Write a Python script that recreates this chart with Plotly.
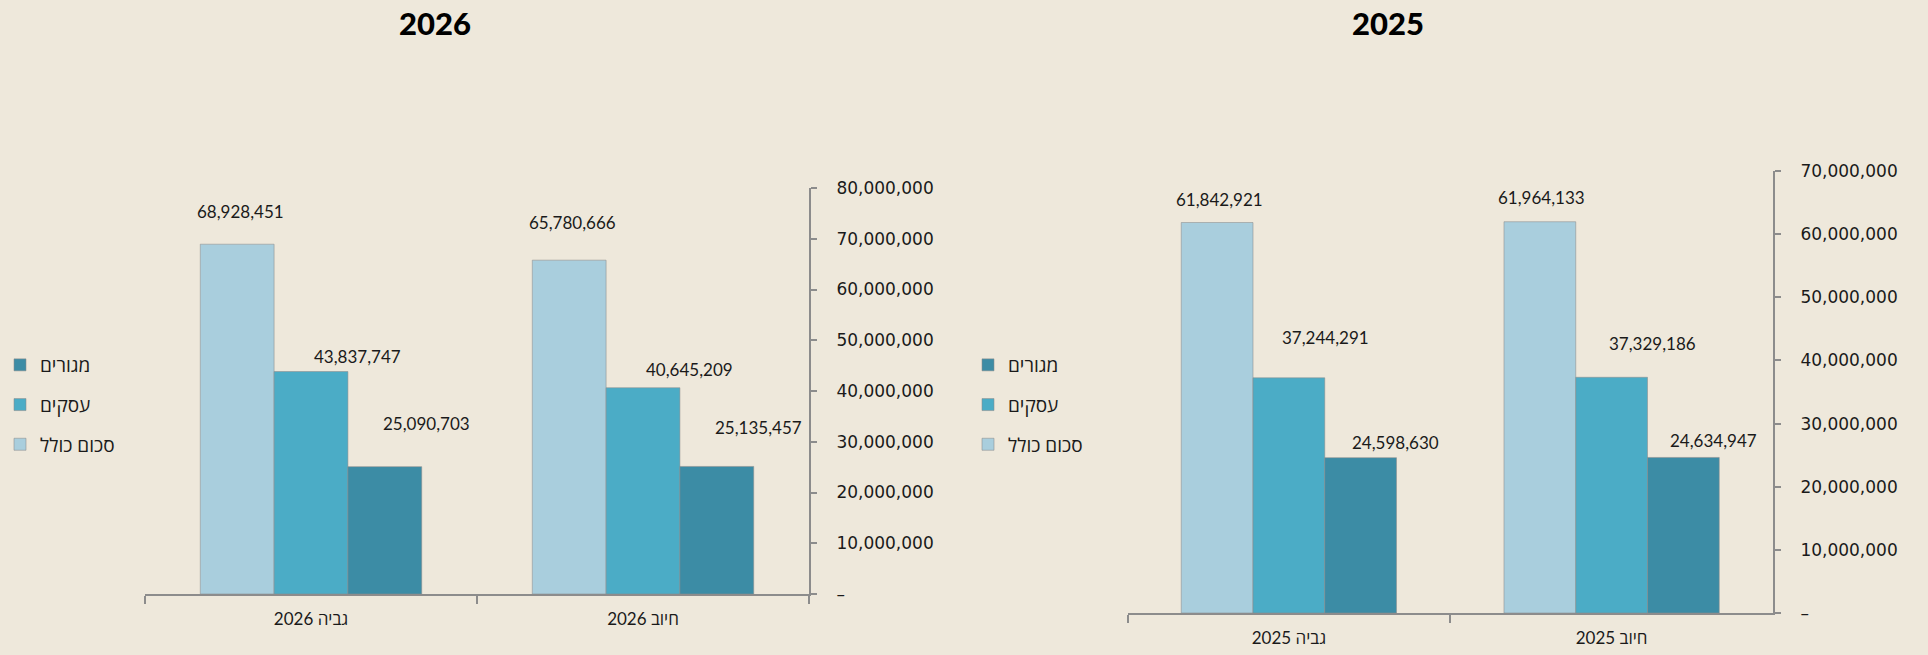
import plotly.graph_objects as go

# ---- data ----
series_names = ["סכום כולל", "עסקים", "מגורים"]

categories_2026 = ["גביה 2026", "חיוב 2026"]
total_2026 = [68928451, 65780666]
business_2026 = [43837747, 40645209]
residential_2026 = [25090703, 25135457]

categories_2025 = ["גביה 2025", "חיוב 2025"]
total_2025 = [61842921, 61964133]
business_2025 = [37244291, 37329186]
residential_2025 = [24598630, 24634947]

yticks_2026 = [0, 10000000, 20000000, 30000000, 40000000, 50000000, 60000000, 70000000, 80000000]
yticks_2025 = [0, 10000000, 20000000, 30000000, 40000000, 50000000, 60000000, 70000000]

# ---- style ----
W, H = 1928, 655
BG = "#EEE8DB"
AXIS = "#8C8C8C"
COLORS = ["#A9CEDD", "#4BACC6", "#3C8CA5"]
FONT = "Lato, 'Open Sans', 'DejaVu Sans', sans-serif"
TICK_FONT = "'DejaVu Sans', sans-serif"
BARGAP = 0.333

# pixel boxes of the two plot areas: (x0, x1, ytop, ybottom)
box_2026 = (145, 809, 188, 594)
box_2025 = (1127.5, 1773, 171, 613)

# label offsets (dx, dy up) from each bar's top centre, per series then category
shifts_2026 = [[(3, 33), (3, 38)], [(46, 15), (46, 18)], [(42, 43), (42, 39)]]
shifts_2025 = [[(2, 23), (2, 24)], [(37, 40), (41, 34)], [(35, 15), (30, 17)]]


def fmt(v):
    return "–" if v == 0 else f"{v:,}"


fig = go.Figure()
annotations = []

charts = [
    ("x", "y", "legend", categories_2026, [total_2026, business_2026, residential_2026],
     box_2026, shifts_2026, yticks_2026, "2026"),
    ("x2", "y2", "legend2", categories_2025, [total_2025, business_2025, residential_2025],
     box_2025, shifts_2025, yticks_2025, "2025"),
]

for n, (xr, yr, lg, cats, series, box, shifts, yticks, title) in enumerate(charts):
    x0, x1, yt, yb = box
    barw = (x1 - x0) / len(cats) * (1 - BARGAP) / len(series)
    for i, (name, vals) in enumerate(zip(series_names, series)):
        fig.add_trace(go.Bar(
            x=cats, y=vals, name=name,
            xaxis=xr, yaxis=yr, legend=lg,
            legendgroup=f"{lg}-{i}",
            legendrank=len(series) - i,
            marker=dict(color=COLORS[i], line=dict(color="rgba(140,140,140,0.55)", width=1)),
            hoverinfo="skip",
        ))
        for j, (c, v) in enumerate(zip(cats, vals)):
            dx, dy = shifts[i][j]
            annotations.append(dict(
                x=c, y=v, xref=xr, yref=yr,
                xshift=(i - 1) * barw + dx, yshift=dy,
                text=f"{v:,}", showarrow=False,
                xanchor="center", yanchor="middle",
                font=dict(family=FONT, size=17, color="#1a1a1a"),
            ))
    # chart title
    annotations.append(dict(
        x=[435, 1388][n] / W, y=1 - 23 / H, xref="paper", yref="paper",
        text=title, showarrow=False,
        xanchor="center", yanchor="middle",
        font=dict(family=FONT, size=31, color="#000000", weight=900),
    ))

    ax = dict(
        domain=[x0 / W, x1 / W],
        showline=True, linecolor=AXIS, linewidth=2,
        ticks="outside", ticklen=8, tickwidth=1.5, tickcolor=AXIS,
        tickson="boundaries", showgrid=False,
        tickfont=dict(family=FONT, size=17, color="#1a1a1a"),
        ticklabelstandoff=9,
        automargin=False, fixedrange=True,
    )
    ay = dict(
        domain=[1 - yb / H, 1 - yt / H],
        side="right", range=[0, yticks[-1]],
        tickvals=yticks, ticktext=[fmt(t) for t in yticks],
        showline=True, linecolor=AXIS, linewidth=2,
        ticks="outside", ticklen=6, tickwidth=1.5, tickcolor=AXIS,
        showgrid=False, zeroline=False,
        tickfont=dict(family=TICK_FONT, size=17, color="#1a1a1a"),
        ticklabelstandoff=16,
        automargin=False, fixedrange=True,
    )
    if n == 0:
        fig.update_layout(xaxis=dict(ax, anchor="y"), yaxis=dict(ay, anchor="x"))
    else:
        fig.update_layout(xaxis2=dict(ax, anchor="y2"), yaxis2=dict(ay, anchor="x2"))

legend_style = dict(
    traceorder="grouped", tracegroupgap=12,
    xanchor="left", yanchor="top",
    bgcolor="rgba(0,0,0,0)",
    font=dict(family=FONT, size=19, color="#1a1a1a"),
)

fig.update_layout(
    width=W, height=H,
    paper_bgcolor=BG, plot_bgcolor=BG,
    margin=dict(l=0, r=0, t=0, b=0, autoexpand=False),
    barmode="group", bargap=BARGAP, bargroupgap=0,
    showlegend=True,
    legend=dict(legend_style, x=0 / W, y=1 - 346 / H),
    legend2=dict(legend_style, x=968 / W, y=1 - 346 / H),
    annotations=annotations,
)

fig.write_html("out.html", config={"displayModeBar": False},
               post_script="document.body.style.margin='0';")
